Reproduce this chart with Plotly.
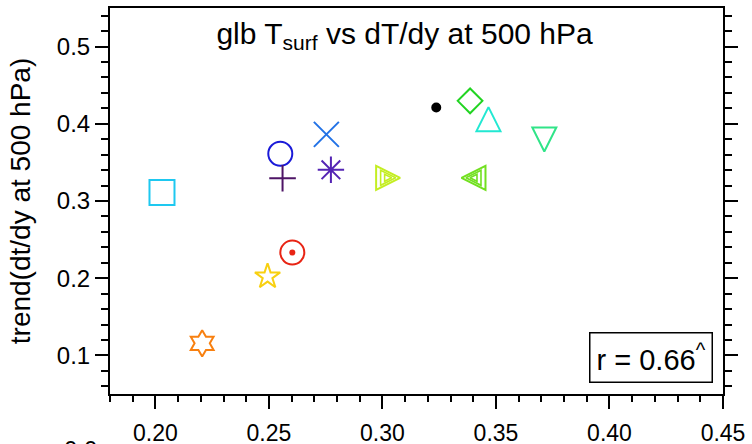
import plotly.graph_objects as go

# ---- data ----
x_vals = [0.2029, 0.2550, 0.2560, 0.2753, 0.2773, 0.2603, 0.2494, 0.2206,
          0.3237, 0.3386, 0.3467, 0.3713, 0.3025, 0.3401]
y_vals = [0.3109, 0.3612, 0.3295, 0.3863, 0.3404, 0.2332, 0.2022, 0.1156,
          0.4211, 0.4297, 0.4060, 0.3796, 0.3300, 0.3300]
x_ticks = [0.20, 0.25, 0.30, 0.35, 0.40, 0.45]
x_tick_text = ["0.20", "0.25", "0.30", "0.35", "0.40", "0.45"]
y_ticks = [0.1, 0.2, 0.3, 0.4, 0.5]
y_tick_text = ["0.1", "0.2", "0.3", "0.4", "0.5"]
r_text = "r = 0.66<sup>^</sup>"

# ---- styles ----
symbols = ["square-open", "circle-open", "cross-thin-open", "x-thin-open",
           "asterisk-open", "circle-open", "star-open", "hexagram-open",
           "circle", "diamond-open", "arrow-down-open", "arrow-down-open",
           "arrow-down-open", "arrow-down-open"]
colors = ["#1ec8f0", "#1a1ad8", "#4e1466", "#2272e6", "#5424b4", "#e82414",
          "#f8d010", "#f88010", "#000000", "#22d422", "#22e8d2", "#30e488",
          "#c4ee22", "#72e020"]
sizes = [25, 24, 19, 25, 22, 24, 19, 20, 8, 19, 24, 24, 24, 24]
angles = [0, 0, 0, 0, 0, 0, 0, 0, 0, 0, 180, 0, 270, 90]
standoffs = [0, 0, 0, 0, 0, 0, 0, 0, 0, 0, 12, 12, 12, 12]

nested_idx = [12, 13]
nested_sizes = [15, 7]
dot_idx = 5

fig = go.Figure()
fig.add_trace(go.Scatter(
    x=x_vals, y=y_vals, mode="markers",
    marker=dict(symbol=symbols, color=colors, size=sizes, angle=angles,
                standoff=standoffs, opacity=1,
                line=dict(width=2, color=colors)),
    hoverinfo="skip"))

for s in nested_sizes:
    fig.add_trace(go.Scatter(
        x=[x_vals[i] for i in nested_idx], y=[y_vals[i] for i in nested_idx],
        mode="markers",
        marker=dict(symbol="arrow-down-open", color=[colors[i] for i in nested_idx],
                    size=s, angle=[angles[i] for i in nested_idx], opacity=1,
                    standoff=s / 2,
                    line=dict(width=1.6, color=[colors[i] for i in nested_idx])),
        hoverinfo="skip"))

# centre dot of the red circle marker
fig.add_trace(go.Scatter(
    x=[x_vals[dot_idx]], y=[y_vals[dot_idx]], mode="markers",
    marker=dict(symbol="circle", color=colors[dot_idx], size=6, opacity=1,
                line=dict(width=0)),
    hoverinfo="skip"))

font_family = "Liberation Sans, Arial, Helvetica, sans-serif"

fig.update_layout(
    width=752, height=444,
    margin=dict(l=110, r=29, t=8, b=50, autoexpand=False),
    plot_bgcolor="white", paper_bgcolor="white",
    showlegend=False,
    font=dict(family=font_family, color="black"),
    title=dict(text="glb T<sub>surf</sub> vs dT/dy at 500 hPa",
               font=dict(size=30, family=font_family, color="black"),
               x=0.538, xref="container", xanchor="center",
               y=1 - 33 / 444, yref="container", yanchor="middle"),
)

fig.update_xaxes(
    range=[0.18, 0.45], tickmode="array", tickvals=x_ticks, ticktext=x_tick_text,
    ticks="outside", ticklen=13, tickwidth=2, tickcolor="black",
    showline=True, linewidth=2, linecolor="black", mirror=True,
    showgrid=False, zeroline=False, automargin=False,
    tickfont=dict(size=23, family=font_family, color="black"),
    ticklabelstandoff=4,
    minor=dict(tickmode="linear", tick0=0, dtick=0.01, ticks="outside",
               ticklen=6, tickwidth=1.5, tickcolor="black", showgrid=False),
)
fig.update_yaxes(
    range=[0.05, 0.55], tickmode="array", tickvals=y_ticks, ticktext=y_tick_text,
    ticks="outside", ticklen=13, tickwidth=2, tickcolor="black",
    showline=True, linewidth=2, linecolor="black", mirror="ticks",
    showgrid=False, zeroline=False, automargin=False,
    tickfont=dict(size=24, family=font_family, color="black"),
    minor=dict(tickmode="linear", tick0=0, dtick=0.02, ticks="outside",
               ticklen=7, tickwidth=1.5, tickcolor="black", showgrid=False),
    title=dict(text="trend(dt/dy at 500 hPa)", standoff=18,
               font=dict(size=28, family=font_family, color="black")),
)

fig.add_annotation(
    text=r_text, xref="paper", yref="paper", x=0.8825, y=0.0933,
    xanchor="center", yanchor="middle", showarrow=False,
    font=dict(size=29, family=font_family, color="black"),
    bordercolor="black", borderwidth=1.5, borderpad=6, bgcolor="white")

fig.add_annotation(
    text="0.0", xref="paper", yref="paper", x=-0.0783, y=-0.1036,
    xanchor="left", yanchor="top", showarrow=False,
    font=dict(size=24, family=font_family, color="black"))

fig.write_html("out.html")
